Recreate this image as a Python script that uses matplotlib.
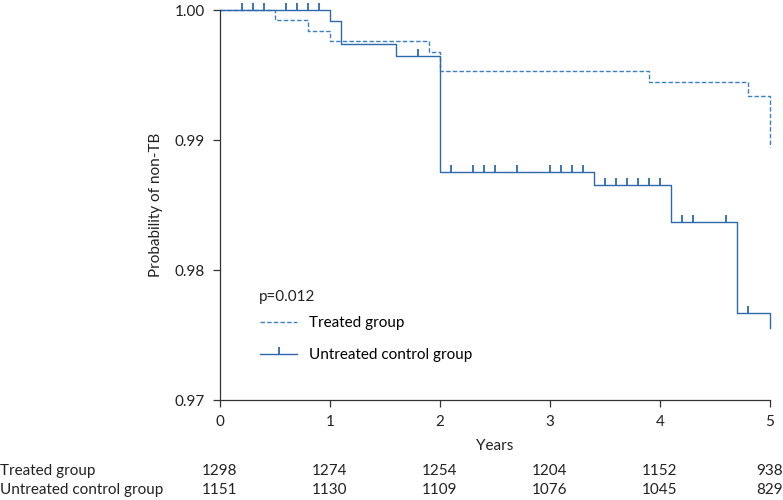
"""Kaplan-Meier style plot: probability of non-TB, treated vs untreated"""
import matplotlib
matplotlib.use("Agg")
import matplotlib.pyplot as plt
import matplotlib.transforms as mtrans
from matplotlib.path import Path
from matplotlib.lines import Line2D

plt.rcParams['font.family'] = ['Lato', 'DejaVu Sans']

# step data (time in years, survival after each step)
treated_t = [0, 0.5, 0.8, 1.0, 1.9, 2.0, 3.9, 4.8, 5.0]
treated_s = [1.0, 0.99923, 0.99841, 0.99764, 0.99679, 0.99531, 0.99446, 0.99341, 0.98946]

untreated_t = [0, 1.0, 1.1, 1.6, 2.0, 3.4, 4.1, 4.7, 5.0]
untreated_s = [1.0, 0.99915, 0.99736, 0.99646, 0.98752, 0.98652, 0.98367, 0.97667, 0.97554]

# censor marks on the untreated curve
censor_t = [0.2, 0.3, 0.4, 0.6, 0.7, 0.8, 0.9, 1.8,
            2.1, 2.3, 2.4, 2.5, 2.7, 3.0, 3.1, 3.2, 3.3,
            3.5, 3.6, 3.7, 3.8, 3.9, 4.0, 4.2, 4.3, 4.6, 4.8]

risk_years = [0, 1, 2, 3, 4, 5]
risk_treated = [1298, 1274, 1254, 1204, 1152, 938]
risk_untreated = [1151, 1130, 1109, 1076, 1045, 829]
row_labels = ["Treated group", "Untreated control group"]

C_SOLID = "#2c6aab"
C_DASH = "#3a80c8"
C_AXIS = "#333333"
FS = 11


def level_at(ts, ss, x):
    val = ss[0]
    for t, s in zip(ts, ss):
        if t <= x:
            val = s
    return val


fig = plt.figure(figsize=(7.83, 5.0), dpi=100)
ax = fig.add_axes([0.281, 0.2, 0.702, 0.78])

ax.step(treated_t, treated_s, where="post", color=C_DASH, lw=1.0,
        linestyle=(0, (3.2, 1.6)), clip_on=False)
ax.step(untreated_t, untreated_s, where="post", color=C_SOLID, lw=1.0,
        clip_on=False)

# upward tick marker for censored observations
tick = Path([(0, 0), (0, 1)], [Path.MOVETO, Path.LINETO])
cens_y = [level_at(untreated_t, untreated_s, t) for t in censor_t]
ax.plot(censor_t, cens_y, linestyle="none", marker=tick, markersize=10,
        markeredgewidth=1.3, color=C_SOLID, clip_on=False)

ax.set_xlim(0, 5)
ax.set_ylim(0.97, 1.0)
ax.set_xticks(risk_years)
ax.set_yticks([0.97, 0.98, 0.99, 1.00])
ax.set_yticklabels(["0.97", "0.98", "0.99", "1.00"])
ax.set_xlabel("Years", fontsize=FS, color="#222222", labelpad=7)
ax.set_ylabel("Probability of non-TB", fontsize=FS, color="#222222", labelpad=8)
for sp in ["top", "right"]:
    ax.spines[sp].set_visible(False)
for sp in ["left", "bottom"]:
    ax.spines[sp].set_color(C_AXIS)
    ax.spines[sp].set_linewidth(0.9)
ax.tick_params(direction="out", length=5, width=0.9, color=C_AXIS,
               labelsize=FS, labelcolor="#222222", pad=6)

# legend
ax.text(0.07, 0.265, "p=0.012", transform=ax.transAxes, fontsize=FS,
        color="#222222", va="center")
handles = [
    Line2D([], [], color=C_DASH, lw=1.0, linestyle=(0, (3.2, 1.6))),
    Line2D([], [], color=C_SOLID, lw=1.0, marker=tick, markersize=10,
           markeredgewidth=1.3),
]
ax.legend(handles, row_labels, loc="upper left", bbox_to_anchor=(0.062, 0.23),
          frameon=False, fontsize=FS, handlelength=2.4, handletextpad=0.8,
          labelspacing=1.15, borderaxespad=0)

# number at risk table
trans = mtrans.blended_transform_factory(ax.transData, fig.transFigure)
for y_fig, label, counts in [(1 - 471 / 500, row_labels[0], risk_treated),
                             (1 - 490 / 500, row_labels[1], risk_untreated)]:
    fig.text(0.0, y_fig, label, fontsize=FS, color="#222222", va="center")
    for yr, n in zip(risk_years, counts):
        ax.text(yr, y_fig, str(n), transform=trans, fontsize=FS,
                color="#222222", ha="center", va="center", clip_on=False)

fig.savefig("out.png", dpi=100)
